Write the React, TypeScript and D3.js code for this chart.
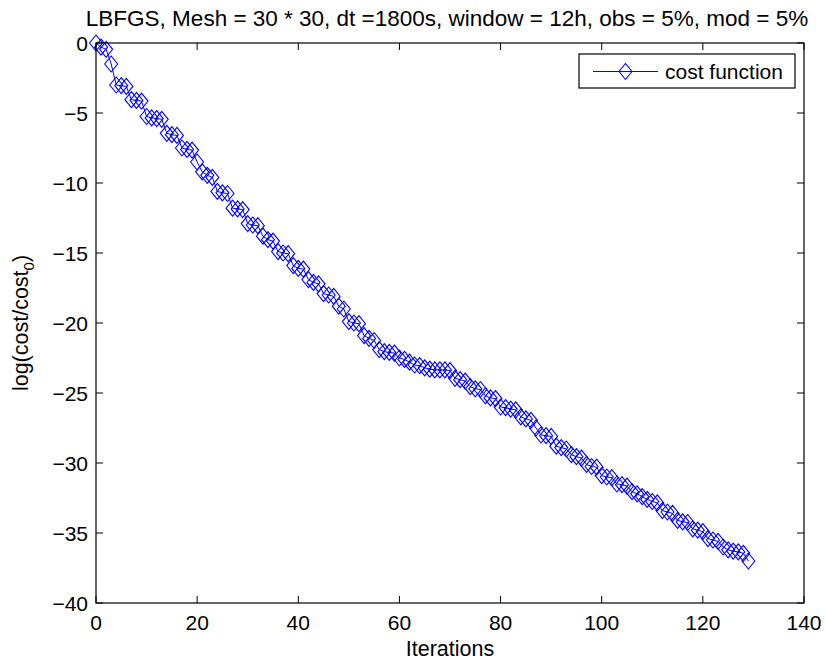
import React from "react";
import * as d3 from "d3";

// Iteration index and log-normalised cost at each iteration
const iterations: number[] = d3.range(0, 130);
const logCost: number[] = [
  0, -0.3, -0.45, -1.5, -3.0, -3.05, -3.1, -4.05, -4.1, -4.15,
  -5.25, -5.35, -5.4, -5.45, -6.45, -6.55, -6.6, -7.5, -7.6, -7.65,
  -8.5, -9.2, -9.45, -9.6, -10.6, -10.7, -10.75, -11.8, -11.85, -11.9,
  -12.9, -13.0, -13.05, -13.8, -14.05, -14.15, -14.9, -15.0, -15.05, -15.9,
  -16.1, -16.15, -16.9, -17.1, -17.2, -17.9, -18.0, -18.1, -18.8, -19.0,
  -19.9, -20.0, -20.05, -20.9, -21.1, -21.25, -21.9, -22.05, -22.1, -22.15,
  -22.5, -22.6, -22.8, -23.0, -23.05, -23.2, -23.3, -23.35, -23.35, -23.35,
  -23.4, -23.95, -24.05, -24.15, -24.55, -24.7, -24.75, -25.2, -25.35, -25.4,
  -26.0, -26.05, -26.15, -26.2, -26.7, -26.85, -26.95, -27.5, -28.0, -28.05,
  -28.1, -28.8, -28.9, -29.0, -29.4, -29.55, -29.65, -30.1, -30.25, -30.3,
  -30.9, -31.0, -31.05, -31.5, -31.55, -31.65, -32.05, -32.2, -32.4, -32.6,
  -32.75, -32.85, -33.4, -33.5, -33.6, -34.1, -34.2, -34.25, -34.7, -34.8,
  -34.9, -35.4, -35.5, -35.6, -36.0, -36.2, -36.3, -36.35, -36.45, -37.0,
];
const xTicks: number[] = [0, 20, 40, 60, 80, 100, 120, 140];
const yTicks: number[] = [0, -5, -10, -15, -20, -25, -30, -35, -40];
const titleText = "LBFGS, Mesh = 30 * 30, dt =1800s, window = 12h, obs = 5%, mod = 5%";
const legendLabel = "cost function";

const W = 825;
const H = 662;
const M = { left: 96, right: 804, top: 43, bottom: 603 };
const FONT = "'Liberation Sans', Arial, Helvetica, sans-serif";
const FS = 21;
const BLUE = "#0000ff";
const TICK = 7;

const diamondPath = (cx: number, cy: number) =>
  `M${cx},${cy - 8}L${cx + 6.5},${cy}L${cx},${cy + 8}L${cx - 6.5},${cy}Z`;

const fmt = (v: number) => (v < 0 ? "\u2212" + Math.abs(v) : String(v));

export default function App() {
  const x = d3.scaleLinear().domain([0, 140]).range([M.left, M.right]);
  const y = d3.scaleLinear().domain([-40, 0]).range([M.bottom, M.top]);
  const pts = iterations.map((it, i) => [it, logCost[i]] as [number, number]);
  const line = d3
    .line<[number, number]>()
    .x((d) => x(d[0]))
    .y((d) => y(d[1]));

  return (
    <svg
      width={W}
      height={H}
      style={{ position: "absolute", left: 0, top: 0, background: "#fff" }}
      fontFamily={FONT}
      fontSize={FS}
    >
      <rect x={0} y={0} width={W} height={H} fill="#fff" />
      {/* data */}
      <path d={line(pts) || ""} fill="none" stroke={BLUE} strokeWidth={1} />
      {pts.map((d, i) => (
        <path key={i} d={diamondPath(x(d[0]), y(d[1]))} fill="none" stroke={BLUE} strokeWidth={1.1} />
      ))}

      {/* axes box */}
      <rect
        x={M.left}
        y={M.top}
        width={M.right - M.left}
        height={M.bottom - M.top}
        fill="none"
        stroke="#000"
        strokeWidth={1.2}
      />
      {xTicks.map((t) => (
        <g key={"x" + t}>
          <line x1={x(t)} x2={x(t)} y1={M.bottom} y2={M.bottom - TICK} stroke="#000" />
          <line x1={x(t)} x2={x(t)} y1={M.top} y2={M.top + TICK} stroke="#000" />
          <text x={x(t)} y={M.bottom + 27} textAnchor="middle">
            {fmt(t)}
          </text>
        </g>
      ))}
      {yTicks.map((t) => (
        <g key={"y" + t}>
          <line x1={M.left} x2={M.left + TICK} y1={y(t)} y2={y(t)} stroke="#000" />
          <line x1={M.right} x2={M.right - TICK} y1={y(t)} y2={y(t)} stroke="#000" />
          <text x={M.left - 8} y={y(t) + 8} textAnchor="end">
            {fmt(t)}
          </text>
        </g>
      ))}

      {/* title and axis labels */}
      <text x={447} y={26} textAnchor="middle" fontSize={22.5}>
        {titleText}
      </text>
      <text x={450} y={656} textAnchor="middle" fontSize={21.5}>
        Iterations
      </text>
      <text
        transform={`translate(28,${(M.top + M.bottom) / 2}) rotate(-90)`}
        textAnchor="middle"
        fontSize={21.5}
      >
        log(cost/cost
        <tspan fontSize={15} dy={6}>0</tspan>
        <tspan dy={-6}>)</tspan>
      </text>

      {/* legend */}
      <g>
        <rect x={579} y={54} width={216} height={34} fill="#fff" stroke="#000" strokeWidth={1.2} />
        <line x1={593} x2={658} y1={71.5} y2={71.5} stroke={BLUE} strokeWidth={1} />
        <path d={diamondPath(625.5, 71.5)} fill="none" stroke={BLUE} strokeWidth={1.1} />
        <text x={665} y={79}>
          {legendLabel}
        </text>
      </g>
    </svg>
  );
}
